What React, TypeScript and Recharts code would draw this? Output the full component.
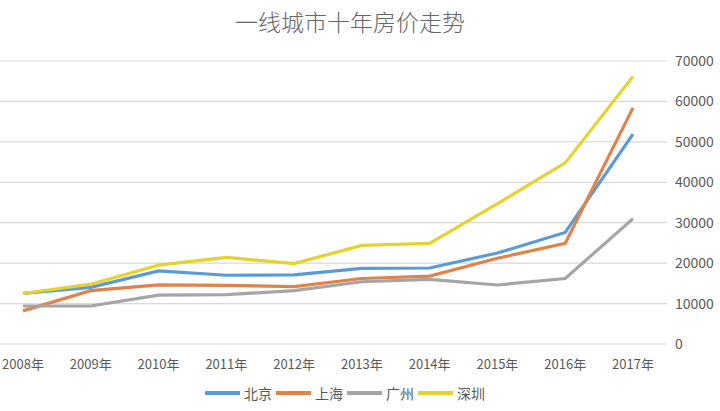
import { LineChart, Line, XAxis, YAxis, CartesianGrid } from 'recharts';

const years = ['2008年', '2009年', '2010年', '2011年', '2012年', '2013年', '2014年', '2015年', '2016年', '2017年'];
const beijing = [12500, 14000, 18100, 17000, 17100, 18700, 18800, 22500, 27600, 51900];
const shanghai = [8200, 13200, 14600, 14500, 14200, 16200, 16800, 21200, 24900, 58400];
const guangzhou = [9400, 9400, 12100, 12200, 13200, 15400, 16000, 14600, 16200, 31000];
const shenzhen = [12500, 14800, 19500, 21400, 19900, 24400, 24900, 34700, 44800, 66200];
const yTicks = [0, 10000, 20000, 30000, 40000, 50000, 60000, 70000];

const series = [
  { key: 'bj', name: '北京', color: '#5B9BD5' },
  { key: 'sh', name: '上海', color: '#E0834A' },
  { key: 'gz', name: '广州', color: '#A5A5A5' },
  { key: 'sz', name: '深圳', color: '#E5D22E' },
];

const data = years.map((y, i) => ({
  year: y,
  bj: beijing[i],
  sh: shanghai[i],
  gz: guangzhou[i],
  sz: shenzhen[i],
}));

const font = '"Noto Sans CJK SC", "Noto Sans", sans-serif';

function LegendRow() {
  return (
    <div style={{ position: 'absolute', top: 383, left: 0, width: 694, display: 'flex', justifyContent: 'center', fontFamily: font, fontSize: 14, color: '#595959' }}>
      {series.map((s) => (
        <div key={s.key} style={{ display: 'flex', alignItems: 'center', marginRight: 4 }}>
          <div style={{ width: 35, height: 4, background: s.color, marginRight: 4 }} />
          <span>{s.name}</span>
        </div>
      ))}
    </div>
  );
}

export default function App() {
  return (
    <div style={{ position: 'fixed', left: 0, top: 0, width: 720, height: 411, background: '#fff', overflow: 'hidden' }}>
      <div style={{ position: 'absolute', top: 4, left: 0, width: 700, textAlign: 'center', fontFamily: font, fontSize: 23, fontWeight: 300, color: '#666' }}>
        一线城市十年房价走势
      </div>
      <LineChart width={720} height={380} data={data} margin={{ top: 61, right: 0, bottom: 0, left: 0 }} style={{ position: 'absolute', left: 0, top: 0 }}>
        <CartesianGrid vertical={false} stroke="#D9D9D9" strokeWidth={1.2} />
        <XAxis
          dataKey="year"
          scale="point"
          padding={{ left: 23, right: 34 }}
          axisLine={false}
          tickLine={false}
          tick={{ fontSize: 13, fill: '#595959', fontFamily: font }}
          tickMargin={10}
          height={36}
          interval={0}
        />
        <YAxis
          orientation="right"
          domain={[0, 70000]}
          ticks={yTicks}
          axisLine={false}
          tickLine={false}
          tick={{ fontSize: 14, fill: '#595959', fontFamily: font, textAnchor: 'start' }}
          tickMargin={2}
          width={53}
          interval={0}
        />
        {series.map((s) => (
          <Line
            key={s.key}
            type="linear"
            dataKey={s.key}
            name={s.name}
            stroke={s.color}
            strokeWidth={3.2}
            dot={false}
            isAnimationActive={false}
          />
        ))}
      </LineChart>
      <LegendRow />
    </div>
  );
}
